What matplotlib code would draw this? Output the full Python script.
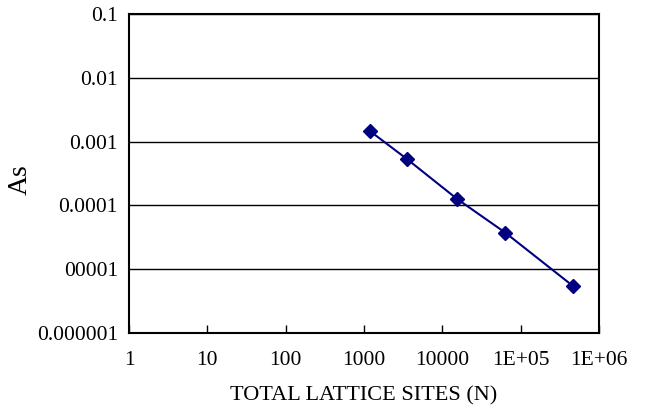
import matplotlib
matplotlib.use('Agg')
import matplotlib.pyplot as plt

# data (log-log)
N = [1200, 3500, 15300, 63400, 460000]
As = [0.00145, 0.000537, 0.000127, 0.0000374, 0.0000055]

xticks = [1, 10, 100, 1000, 10000, 1e5, 1e6]
xlabels = ['1', '10', '100', '1000', '10000', '1E+05', '1E+06']
yticks = [1e-6, 1e-5, 1e-4, 1e-3, 1e-2, 1e-1]
ylabels = ['0.000001', '00001', '0.0001', '0.001', '0.01', '0.1']

plt.rcParams['font.family'] = ['Liberation Serif', 'DejaVu Serif']

fig = plt.figure(figsize=(6.45, 4.07), dpi=100)
ax = fig.add_axes([0.2, 0.182, 0.7287, 0.7836])

ax.plot(N, As, color='#000080', lw=1.5, marker='D', markersize=7.5,
        markerfacecolor='#000080', markeredgecolor='#000080')

ax.set_xscale('log')
ax.set_yscale('log')
ax.set_xlim(1, 1e6)
ax.set_ylim(1e-6, 0.1)
ax.set_xticks(xticks)
ax.set_xticklabels(xlabels)
ax.set_yticks(yticks)
ax.set_yticklabels(ylabels)
ax.minorticks_off()
ax.tick_params(axis='x', direction='in', length=6, width=1, pad=13, labelsize=15.5)
ax.tick_params(axis='y', length=0, pad=8, labelsize=15.5)
ax.yaxis.grid(True, color='black', lw=1)
ax.set_axisbelow(True)
for s in ax.spines.values():
    s.set_linewidth(1.5)
    s.set_color('black')

ax.set_xlabel('TOTAL LATTICE SITES (N)', fontsize=16, labelpad=12)
ax.set_ylabel('As', fontsize=20)
ax.yaxis.set_label_coords(-0.205, 0.48)

fig.savefig('out.png', dpi=100)
